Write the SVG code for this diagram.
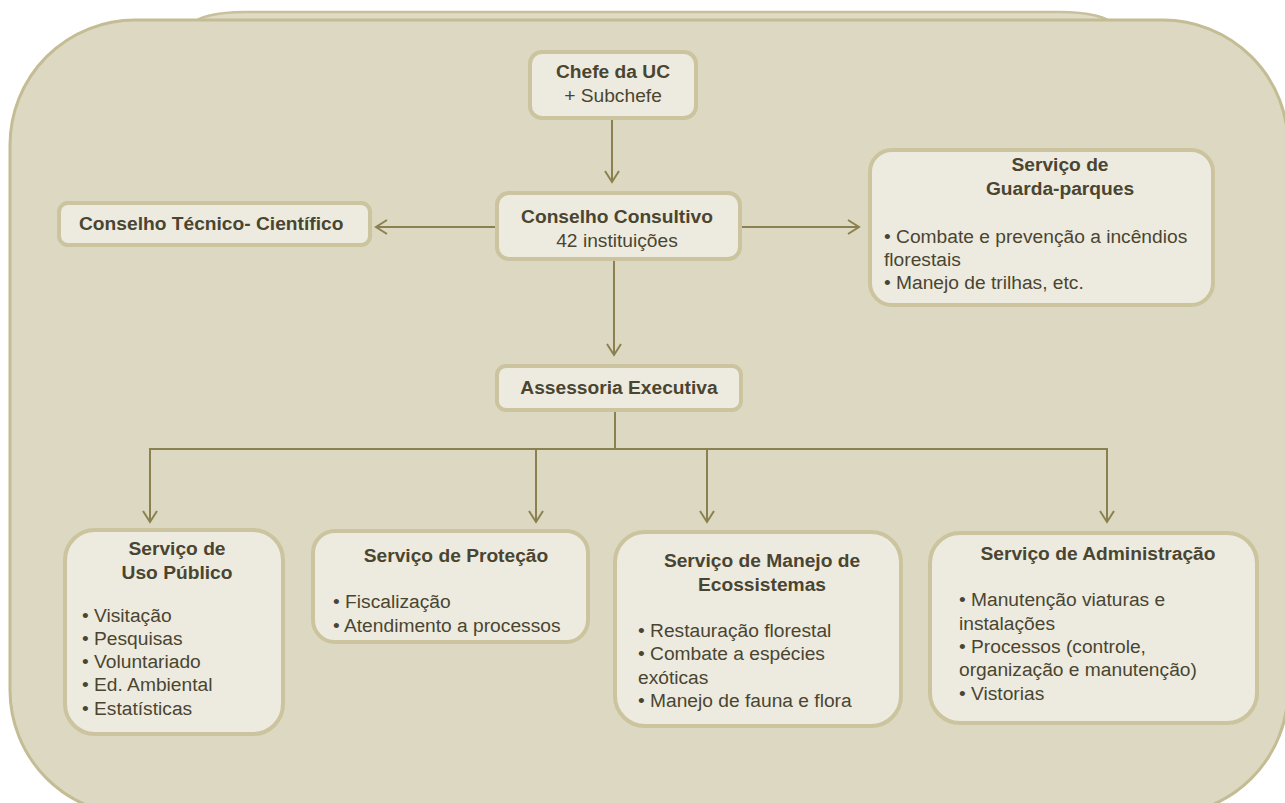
<svg xmlns="http://www.w3.org/2000/svg" width="1285" height="803" viewBox="0 0 1285 803">
  <defs>
    <style>
      .panel { fill: #ddd8c1; stroke: #c4bc94; stroke-width: 3; }
      .panel-back { fill: #e0dbc5; stroke: #c8c09c; stroke-width: 2.5; }
      .box { fill: #edebe0; stroke: #cbc49f; stroke-width: 4; }
      .link { fill: none; stroke: #8b8150; stroke-width: 2; }
      .title { font-family: "Liberation Sans", Arial, sans-serif; font-weight: bold; font-size: 19.2px; fill: #4a4530; }
      .body { font-family: "Liberation Sans", Arial, sans-serif; font-size: 19.2px; fill: #4a4530; }
      .mid { text-anchor: middle; }
    </style>
    <marker id="arrow" markerUnits="userSpaceOnUse" markerWidth="24" markerHeight="24" refX="12" refY="8" orient="auto" viewBox="0 0 24 16">
      <path d="M1,1 L12,8 L1,15" fill="none" stroke="#8b8150" stroke-width="2"/>
    </marker>
  </defs>

  <!-- background panels -->
  <g id="background">
    <rect class="panel-back" x="195" y="12" width="915" height="200" rx="50" ry="12"/>
    <rect class="panel" x="10" y="20" width="1278" height="795" rx="125" ry="125"/>
  </g>

  <!-- connectors -->
  <g id="connectors">
    <line class="link" x1="612" y1="118" x2="612" y2="182" marker-end="url(#arrow)"/>
    <line class="link" x1="497" y1="227" x2="376" y2="227" marker-end="url(#arrow)"/>
    <line class="link" x1="740" y1="227" x2="859" y2="227" marker-end="url(#arrow)"/>
    <line class="link" x1="614" y1="260" x2="614" y2="355" marker-end="url(#arrow)"/>
    <polyline class="link" points="615,410 615,449"/>
    <line class="link" x1="149" y1="449" x2="1108" y2="449"/>
    <line class="link" x1="150" y1="449" x2="150" y2="522" marker-end="url(#arrow)"/>
    <line class="link" x1="536" y1="449" x2="536" y2="522" marker-end="url(#arrow)"/>
    <line class="link" x1="707" y1="449" x2="707" y2="522" marker-end="url(#arrow)"/>
    <line class="link" x1="1107" y1="449" x2="1107" y2="522" marker-end="url(#arrow)"/>
  </g>

  <g id="chefe">
    <rect class="box" x="530" y="52" width="166" height="66" rx="12"/>
    <text class="title mid" x="613" y="78">Chefe da UC</text>
    <text class="body mid" x="613" y="102">+ Subchefe</text>
  </g>

  <g id="conselho-consultivo">
    <rect class="box" x="497" y="193" width="243" height="66" rx="12"/>
    <text class="title mid" x="617" y="223">Conselho Consultivo</text>
    <text class="body mid" x="617" y="247">42 instituições</text>
  </g>

  <g id="conselho-tecnico">
    <rect class="box" x="59" y="203" width="311" height="42" rx="9"/>
    <text class="title" x="79" y="230">Conselho Técnico- Científico</text>
  </g>

  <g id="guarda-parques">
    <rect class="box" x="870" y="150" width="343" height="155" rx="22"/>
    <text class="title mid" x="1060" y="171">Serviço de</text>
    <text class="title mid" x="1060" y="195">Guarda-parques</text>
    <text class="body" x="884" y="243">• Combate e prevenção a incêndios</text>
    <text class="body" x="884" y="266">florestais</text>
    <text class="body" x="884" y="289">• Manejo de trilhas, etc.</text>
  </g>

  <g id="assessoria">
    <rect class="box" x="497" y="366" width="244" height="44" rx="9"/>
    <text class="title mid" x="619" y="394">Assessoria Executiva</text>
  </g>

  <g id="uso-publico">
    <rect class="box" x="65" y="530" width="218" height="204" rx="30"/>
    <text class="title mid" x="177" y="555">Serviço de</text>
    <text class="title mid" x="177" y="579">Uso Público</text>
    <text class="body" x="82" y="622">• Visitação</text>
    <text class="body" x="82" y="645">• Pesquisas</text>
    <text class="body" x="82" y="668">• Voluntariado</text>
    <text class="body" x="82" y="691">• Ed. Ambiental</text>
    <text class="body" x="82" y="715">• Estatísticas</text>
  </g>

  <g id="protecao">
    <rect class="box" x="313" y="531" width="275" height="111" rx="22"/>
    <text class="title mid" x="456" y="562">Serviço de Proteção</text>
    <text class="body" x="333" y="608">• Fiscalização</text>
    <text class="body" x="333" y="632">• Atendimento a processos</text>
  </g>

  <g id="manejo">
    <rect class="box" x="615" y="532" width="286" height="194" rx="30"/>
    <text class="title mid" x="762" y="567">Serviço de Manejo de</text>
    <text class="title mid" x="762" y="591">Ecossistemas</text>
    <text class="body" x="638" y="637">• Restauração florestal</text>
    <text class="body" x="638" y="660">• Combate a espécies</text>
    <text class="body" x="638" y="684">exóticas</text>
    <text class="body" x="638" y="707">• Manejo de fauna e flora</text>
  </g>

  <g id="administracao">
    <rect class="box" x="930" y="533" width="327" height="190" rx="30"/>
    <text class="title mid" x="1098" y="560">Serviço de Administração</text>
    <text class="body" x="959" y="606">• Manutenção viaturas e</text>
    <text class="body" x="959" y="630">instalações</text>
    <text class="body" x="959" y="653">• Processos (controle,</text>
    <text class="body" x="959" y="676">organização e manutenção)</text>
    <text class="body" x="959" y="700">• Vistorias</text>
  </g>
</svg>
